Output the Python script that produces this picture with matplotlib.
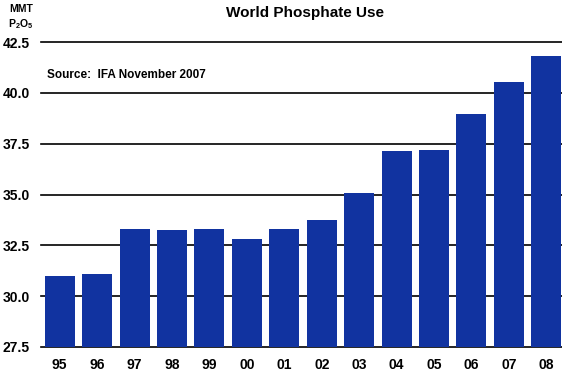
import matplotlib.pyplot as plt
import numpy as np

plt.rcParams['font.family'] = ['Liberation Sans', 'DejaVu Sans']
plt.rcParams['mathtext.fontset'] = 'custom'
plt.rcParams['mathtext.rm'] = 'Liberation Sans:bold'
plt.rcParams['mathtext.bf'] = 'Liberation Sans:bold'

years = ['95', '96', '97', '98', '99', '00', '01', '02', '03', '04', '05', '06', '07', '08']
use = [31.0, 31.1, 33.3, 33.25, 33.3, 32.8, 33.3, 33.75, 35.05, 37.15, 37.2, 38.95, 40.55, 41.8]
yticks = [27.5, 30.0, 32.5, 35.0, 37.5, 40.0, 42.5]

fig = plt.figure(figsize=(5.62, 3.82), dpi=100)
ax = fig.add_axes([41 / 562, 35 / 382, 521 / 562, 305 / 382])

x = np.arange(len(years))
ax.bar(x, use, width=0.8, color='#1133a0', zorder=2)
ax.set_xlim(-0.5, 13.42)
ax.set_ylim(27.5, 42.5)
ax.set_yticks(yticks)
ax.set_yticklabels([f'{v:.1f}' for v in yticks], fontsize=10, fontweight='bold')
ax.set_xticks(x)
ax.set_xticklabels(years, fontsize=10, fontweight='bold')
ax.tick_params(length=0, pad=8)
ax.tick_params(axis='x', pad=8)
for v in yticks:
    ax.axhline(v, color='black', lw=1.2, zorder=1, clip_on=False)
for s in ax.spines.values():
    s.set_visible(False)

fig.text(305 / 562, 1 - 13 / 382, 'World Phosphate Use', ha='center', va='center',
         fontsize=11, fontweight='bold')
fig.text(21 / 562, 1 - 9 / 382, 'MMT', ha='center', va='center', fontsize=7.5, fontweight='bold')
fig.text(21 / 562, 1 - 24 / 382, r'$\mathrm{P_2O_5}$', ha='center', va='center',
         fontsize=7.5)
fig.text(47 / 562, 1 - 75 / 382, 'Source:  IFA November 2007',
         ha='left', va='center', fontsize=8.5, fontweight='bold')

fig.savefig('out.png', dpi=100)
